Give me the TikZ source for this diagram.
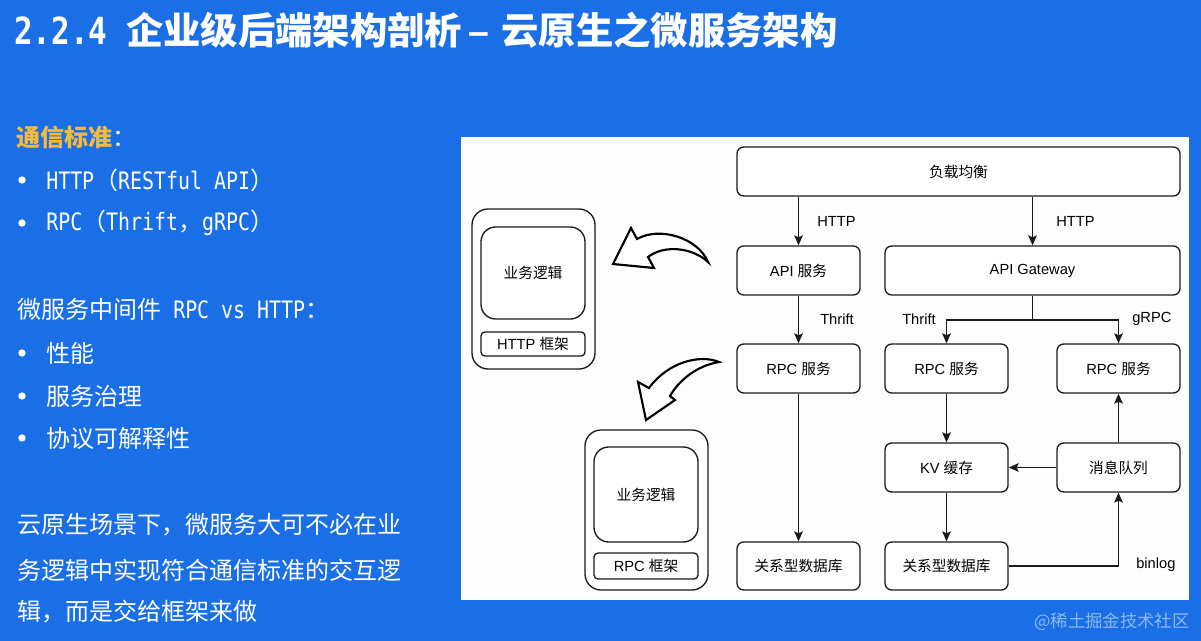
\documentclass[tikz,border=0pt]{standalone}
\usepackage{fontspec}
\setmainfont{Liberation Sans}
\newfontfamily\cjk{Noto Sans CJK SC}
\newfontfamily\mono[FakeStretch=0.83]{DejaVu Sans Mono}
\usetikzlibrary{arrows.meta}
\definecolor{bgblue}{HTML}{1A6FE6}
\definecolor{orangeY}{HTML}{F6B93B}
\definecolor{panelc}{HTML}{FDFDFD}
\definecolor{linec}{HTML}{1A1A1A}
\tikzset{
  box/.style={draw=linec, line width=1pt, rounded corners=5pt, fill=white,
    minimum width=92.25pt, minimum height=36.75pt, inner sep=0pt,
    font=\fontsize{11}{13}\selectfont, text=black},
  arr/.style={draw=linec, line width=1pt, -{Stealth[length=7.5pt,width=6.5pt,inset=1.5pt]}},
  lbl/.style={anchor=west, inner sep=0pt, font=\fontsize{11}{13}\selectfont, text=black},
  body/.style={anchor=west, inner sep=0pt, text=white, font=\fontsize{18}{20}\selectfont},
  bul/.style={circle, fill=white, inner sep=0pt, minimum size=5.5pt},
  outerbox/.style={draw=linec, line width=1pt, rounded corners=12pt, fill=white,
    minimum width=92.25pt, minimum height=120pt, inner sep=0pt},
  bizbox/.style={draw=linec, line width=1pt, rounded corners=11pt, fill=white,
    minimum width=78pt, inner sep=0pt, font=\fontsize{11}{13}\selectfont},
  framebox/.style={draw=linec, line width=1pt, rounded corners=3pt, fill=white,
    minimum width=78pt, inner sep=0pt, font=\fontsize{11}{13}\selectfont},
  blockarrow/.style={draw=black, line width=1.6pt, fill=white, line join=miter}
}
\begin{document}
\begin{tikzpicture}[x=0.75pt, y=-0.75pt]
\fill[bgblue] (0,0) rectangle (1201,641);
\useasboundingbox (0,0) rectangle (1201,641);

% title
\node[anchor=west, inner sep=0pt, text=white, font=\fontsize{28}{30}\selectfont] (title) at (14,30)
  {{\mono\bfseries 2.2.4 }{\cjk\bfseries 企业级后端架构剖析}\hspace{5pt}{\bfseries –}\hspace{9pt}{\cjk\bfseries 云原生之微服务架构}};

% left text
\node[body] (std) at (16,137) {{\cjk\bfseries\color{orangeY}通信标准}{\cjk ：}};
\node[bul] (b1) at (22,180) {};
\node[body] (t1) at (46,180) {{\mono HTTP}{\cjk （}{\mono RESTful API}{\cjk ）}};
\node[bul] (b2) at (22,223) {};
\node[body] (t2) at (46,223) {{\mono RPC}{\cjk （}{\mono Thrift}{\cjk ，}{\mono gRPC}{\cjk ）}};
\node[body] (mid) at (17,309) {{\cjk 微服务中间件}{\mono{} RPC vs HTTP}{\cjk ：}};
\node[bul] (b3) at (22,353) {};
\node[body] (t3) at (46,353) {\cjk 性能};
\node[bul] (b4) at (22,396) {};
\node[body] (t4) at (46,396) {\cjk 服务治理};
\node[bul] (b5) at (22,438) {};
\node[body] (t5) at (46,438) {\cjk 协议可解释性};
\node[body] (p1) at (17,525) {\cjk 云原生场景下，微服务大可不必在业};
\node[body] (p2) at (17,570) {\cjk 务逻辑中实现符合通信标准的交互逻};
\node[body] (p3) at (17,612) {\cjk 辑，而是交给框架来做};

% panel
\fill[panelc] (461,137) rectangle (1189,600);

% left: HTTP framework
\node[outerbox] (outer1) at (533.5,289) {};
\node[bizbox, minimum height=69pt] (biz1) at (533,273) {\cjk 业务逻辑};
\node[framebox, minimum height=18pt] (frame1) at (533,344) {HTTP {\cjk 框架}};
% left: RPC framework
\node[outerbox] (outer2) at (646.5,510) {};
\node[bizbox, minimum height=71.25pt] (biz2) at (646,494.5) {\cjk 业务逻辑};
\node[framebox, minimum height=19.5pt] (frame2) at (646,566) {RPC {\cjk 框架}};

% block arrows
\draw[blockarrow] (613,264) -- (631,228) -- (637,239)
  .. controls (660,226) and (698,238) .. (708,262)
  .. controls (693,248) and (665,244) .. (648,257)
  -- (654,268) -- cycle;
\draw[blockarrow] (719,362) .. controls (700,354) and (668,362) .. (649,388)
  -- (638,382) -- (646,420) -- (675,400) -- (670,396)
  .. controls (678,382) and (695,366) .. cycle;

% diagram nodes
\node[box, minimum width=332.25pt] (lb) at (958.5,171.5) {\cjk 负载均衡};
\node[box] (api) at (798.5,270.5) {API {\cjk 服务}};
\node[box, minimum width=221.25pt] (gw) at (1032.5,270.5) {API Gateway};
\node[box] (rpc1) at (798.5,368.5) {RPC {\cjk 服务}};
\node[box] (rpc2) at (946.5,368.5) {RPC {\cjk 服务}};
\node[box] (rpc3) at (1118.5,368.5) {RPC {\cjk 服务}};
\node[box] (kv) at (946.5,467.5) {KV {\cjk 缓存}};
\node[box] (mq) at (1118.5,467.5) {\cjk 消息队列};
\node[box, minimum height=36pt] (db1) at (798.5,566) {\cjk 关系型数据库};
\node[box, minimum height=36pt] (db2) at (946.5,566) {\cjk 关系型数据库};

% connectors
\draw[arr] (api.north |- lb.south) -- (api.north);
\draw[arr] (gw.north |- lb.south) -- (gw.north);
\draw[arr] (api) -- (rpc1);
\coordinate (split) at (1032.5,320);
\draw[draw=linec, line width=1pt] (gw.south) -- (split);
\draw[arr] (split) -| (rpc2.north);
\draw[arr] (split) -| (rpc3.north);
\draw[arr] (rpc1) -- (db1);
\draw[arr] (rpc2) -- (kv);
\draw[arr] (mq) -- (kv);
\draw[arr] (mq) -- (rpc3);
\draw[arr] (kv) -- (db2);
\draw[arr] (db2.east) -| (mq.south);

% labels
\node[lbl] (l1) at (817,221) {HTTP};
\node[lbl] (l2) at (1056,221) {HTTP};
\node[lbl] (l3) at (820,319) {Thrift};
\node[lbl] (l4) at (902,319) {Thrift};
\node[lbl] (l5) at (1132,319) {gRPC};
\node[lbl] (l6) at (1136,565) {binlog};

% watermark
\node[anchor=west, inner sep=0pt, text=white, opacity=0.5, font=\fontsize{13}{15}\selectfont] (wm) at (1034,622) {{\cjk @稀土掘金技术社区}};
\end{tikzpicture}
\end{document}
